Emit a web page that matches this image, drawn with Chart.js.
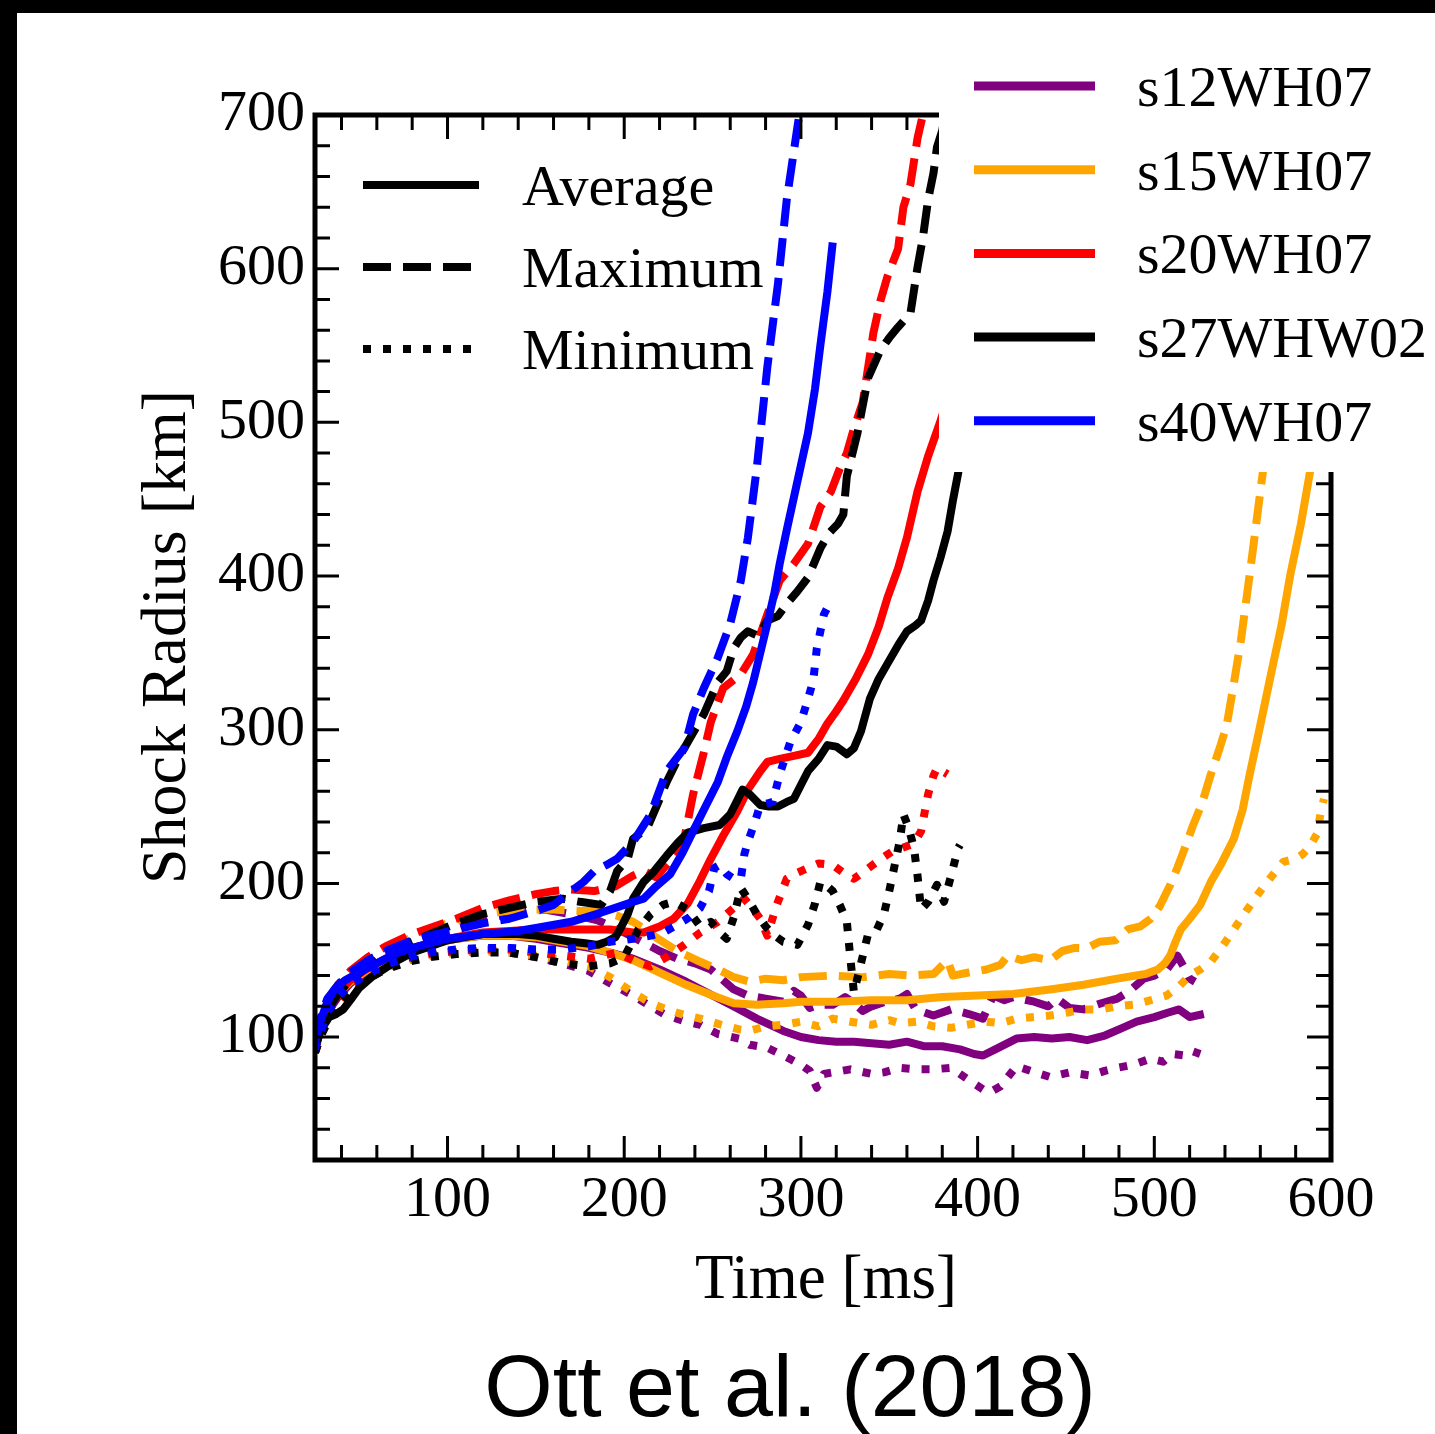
<!DOCTYPE html>
<html>
<head>
<meta charset="utf-8">
<script src="https://cdn.jsdelivr.net/npm/chart.js@4.4.1/dist/chart.umd.min.js"></script>
<style>
  html, body { margin: 0; padding: 0; background: #000; }
  #wrap { position: absolute; left: 17px; top: 13px; width: 1418px; height: 1421px; background: #fff; }
</style>
</head>
<body>
<div id="wrap"><canvas id="myChart" width="1418" height="1421"></canvas></div>
<script>
// shock radius vs time, Ott et al. (2018), drawn with chart.js

const xTickLabels = [100, 200, 300, 400, 500, 600];
const yTickLabels = [100, 200, 300, 400, 500, 600, 700];
const X_MIN = 25, X_MAX = 600, Y_MIN = 20, Y_MAX = 700, MINOR_STEP = 20;

const models = ['s12WH07', 's15WH07', 's20WH07', 's27WHW02', 's40WH07'];
const styles = ['Average', 'Maximum', 'Minimum'];

// s12WH07
const s12AvgT = [25,28,32,38,45,55,65,78,90,105, 120,135,150,165,180,192,205,220,235,250, 262,275,290,300,310,320,330,340,350,360, 370,380,390,398,403,410,422,432,442,452, 462,472,482,490,500,508,514,520,528];
const s12AvgR = [92,104,116,126,135,143,150,157,161,164, 166,166,164,161,158,155,151,144,136,127, 120,112,104,100,98,97,97,96,95,97, 94,94,92,89,88,92,99,100,99,100, 98,101,106,110,113,116,118,113,115];
const s12MaxT = [25,28,32,38,45,55,65,78,90,105, 120,140,155,170,185,200,210,220,230,240, 249,256,262,270,280,290,296,300,305,310, 318,325,330,335,340,348,356,360,365,375, 385,395,403,406,409,415,420,432,440,445, 452,460,470,479,486,494,500,507,513,517, 520,523];
const s12MaxR = [95,108,120,130,139,148,155,162,167,172, 177,181,183,180,176,168,162,156,151,148, 144,137,131,127,125,123,130,127,119,121, 121,126,122,117,120,123,125,128,118,114, 118,115,112,120,127,124,126,123,120,125, 119,118,122,125,130,138,140,144,153,145, 138,136];
const s12MinT = [25,28,32,38,45,55,65,78,90,105, 120,135,150,165,180,192,205,215,224,235, 243,253,265,271,281,290,300,305,309,313, 318,328,340,347,356,366,375,385,395,403, 407,413,422,430,441,452,464,472,479,488, 498,505,510,517,521,526];
const s12MinR = [90,100,112,122,131,139,145,150,153,155, 156,155,152,148,143,135,127,120,114,110, 108,102,99,95,93,88,82,78,67,76, 77,79,76,77,80,79,79,80,72,66, 64,68,81,78,74,77,75,78,80,82, 86,84,89,88,91,89];

// s15WH07
const s15AvgT = [25,28,32,38,45,55,65,78,90,105, 120,135,150,165,180,192,205,220,235,250, 262,275,290,300,320,340,360,380,400,420, 441,460,479,495,502,506,509,512,515,520, 526,532,538,545,550,554,560,566,572,577, 583,588,594,600];
const s15AvgR = [93,106,118,128,136,144,150,156,160,164, 166,166,165,162,159,155,150,142,134,127, 122,121,122,123,123,124,124,126,127,128, 131,134,138,141,144,148,153,162,170,177, 186,201,213,229,248,271,303,336,368,401, 434,467,505,545];
const s15MaxT = [25,28,32,38,45,55,65,78,90,105, 120,140,160,175,187,196,205,212,219,230, 243,253,262,271,280,290,300,318,335,350, 362,375,383,386,395,405,413,417,425,432, 441,448,455,462,469,478,485,492,498,503, 509,513,516,522,527,532,537,541,545,549, 554,557,560,564,570,580,590,595];
const s15MaxR = [96,110,122,132,141,150,157,164,170,176, 180,183,183,182,182,179,175,170,164,156, 149,144,139,136,138,137,139,140,139,141, 140,141,150,140,142,144,147,153,150,152, 150,156,158,158,162,163,170,172,177,185, 199,210,219,238,252,271,288,303,330,358, 401,428,455,490,540,610,680,715];
const s15MinT = [25,28,32,38,45,55,65,78,90,105, 120,135,150,165,180,192,205,215,224,235, 243,255,265,271,280,290,300,310,318,328, 340,350,356,366,375,385,394,405,413,422, 432,441,451,460,470,479,488,498,507,514, 520,526,532,538,545,552,560,566,573,580, 584,588,592,594,596];
const s15MinR = [90,100,113,123,131,139,145,150,153,155, 156,155,153,150,146,139,129,122,118,114, 112,108,105,104,107,108,110,107,112,110, 108,111,109,110,107,106,108,110,109,112, 113,114,116,118,118,120,121,124,127,133, 140,144,149,158,170,182,195,204,214,216, 219,224,232,245,255];

// s20WH07
const s20AvgT = [25,28,32,38,45,55,65,78,90,105, 120,135,150,165,180,192,205,211,220,228, 236,243,249,256,264,270,277,281,288,296, 304,310,315,320,324,331,338,344,349,355, 360,366,372,379,390];
const s20AvgR = [94,107,119,129,137,145,151,157,161,165, 168,169,170,170,170,170,168,168,172,177, 187,202,216,231,247,261,273,279,281,283, 285,294,304,312,319,333,349,367,386,405, 425,455,478,501,540];
const s20MaxT = [25,28,32,38,45,55,65,78,90,105, 120,135,150,160,170,183,195,205,211,218, 224,230,234,239,245,249,256,266,273,281, 288,296,304,311,317,322,326,330,335,341, 345,349,355,358,362,366,370];
const s20MaxR = [96,110,123,134,143,152,159,166,171,177, 184,189,193,195,196,195,198,205,208,204, 212,220,229,258,285,305,327,336,349,375, 397,408,421,445,455,470,480,496,513,558, 579,595,613,640,655,685,705];
const s20MinT = [25,28,32,38,45,55,65,78,90,105, 120,135,150,165,180,196,205,215,224,234, 243,253,262,268,273,277,281,286,292,298, 304,310,318,324,330,336,343,348,352,357, 362,365,368,372,375,377,380,383];
const s20MinR = [90,100,113,123,132,140,146,151,154,156, 157,157,155,153,151,155,150,146,152,160, 168,175,184,190,183,177,166,185,203,207, 210,213,212,207,203,208,214,218,221,223, 225,228,234,258,270,275,273,271];

// s27WHW02
const s27AvgT = [25,28,33,37,41,45,50,57,65,72, 80,90,100,110,120,130,140,150,160,170, 178,185,190,195,198,202,205,211,217,224, 230,236,245,254,260,264,267,271,277,282, 287,292,296,300,304,310,315,320,326,330, 334,339,344,349,355,360,365,368,372,375, 379,383,386,389,392];
const s27AvgR = [92,104,113,115,118,124,132,139,145,150, 155,159,163,165,167,167,167,166,164,162, 161,160,162,165,171,180,190,201,208,218, 226,233,236,238,245,254,261,258,251,250, 250,253,255,264,273,281,290,289,284,288, 299,320,333,343,355,364,368,371,384,397, 412,429,449,467,490];
const s27MaxT = [25,28,33,38,45,55,65,78,90,105, 120,135,150,165,175,187,192,196,202,205, 213,219,224,230,236,245,253,258,262,266, 270,276,281,287,292,298,304,311,316,321, 324,326,332,338,345,350,355,362,366,369, 372,375,377,380,383];
const s27MaxR = [95,108,119,128,137,146,154,161,167,174, 180,184,188,190,188,186,195,208,216,229, 236,252,266,280,292,310,331,338,353,360, 364,361,371,374,382,390,399,418,428,434, 440,465,493,529,547,555,562,571,601,620, 645,662,679,690,710];
const s27MinT = [25,28,33,38,45,55,65,78,90,105, 120,135,150,165,180,192,200,208,215,222, 228,236,243,249,254,258,262,266,270,275, 280,284,290,298,304,308,311,315,318,322, 326,328,330,334,338,343,347,350,352,356, 358,361,364,366,368,372,377,381,385,389, 390];
const s27MinR = [90,100,112,121,130,138,144,149,152,154, 155,155,152,148,146,148,152,170,180,186, 188,183,172,175,168,164,178,197,190,180, 172,167,162,160,173,187,201,198,195,186, 175,151,129,148,167,170,180,195,206,228, 245,236,223,205,183,188,199,188,205,223, 225];

// s40WH07
const s40AvgT = [25,28,32,36,42,50,60,70,80,90, 100,120,140,150,170,187,200,205,211,218, 226,233,239,246,253,258,264,269,273,277, 281,285,288,292,296,300,304,308,311,315, 318];
const s40AvgR = [96,110,123,131,137,142,148,154,158,161, 164,167,169,171,175,181,186,188,190,198, 206,220,234,250,266,282,299,315,331,350, 369,389,408,430,451,472,493,522,550,585, 617];
const s40MaxT = [25,28,32,38,45,55,65,78,90,105, 120,135,150,160,170,177,183,190,196,205, 215,224,234,239,245,253,260,266,270,275, 281,287,292,298,301];
const s40MaxR = [97,112,125,134,142,150,156,162,166,170, 174,177,182,186,195,201,208,212,216,227, 245,273,288,310,327,347,369,397,425,470, 536,590,645,692,715];
const s40MinT = [25,28,32,38,45,55,65,78,90,105, 120,135,150,165,180,192,205,215,222,230, 237,243,248,251,254,258,262,266,268,270, 274,277,281,284,288,294,300,304,307,309, 313,317];
const s40MinR = [92,103,116,126,134,141,147,152,155,157, 158,158,157,157,159,162,164,166,168,173, 178,184,195,210,212,206,203,203,219,227, 240,251,252,253,271,292,305,320,332,353, 375,384];

const colors = ['#800080', '#FFA500', '#FF0000', '#000000', '#0000FF'];
const dashes = [[], [28, 12], [8, 12]];

const runs = [
    [[s12AvgT, s12AvgR], [s12MaxT, s12MaxR], [s12MinT, s12MinR]],
    [[s15AvgT, s15AvgR], [s15MaxT, s15MaxR], [s15MinT, s15MinR]],
    [[s20AvgT, s20AvgR], [s20MaxT, s20MaxR], [s20MinT, s20MinR]],
    [[s27AvgT, s27AvgR], [s27MaxT, s27MaxR], [s27MinT, s27MinR]],
    [[s40AvgT, s40AvgR], [s40MaxT, s40MaxR], [s40MinT, s40MinR]]
];

const SERIF = "'Liberation Serif', 'Times New Roman', serif";
const SANS = "'Liberation Sans', Arial, sans-serif";

const datasets = [];
runs.forEach((run, m) => {
    run.forEach(([T, R], s) => {
        datasets.push({
            label: models[m] + ' ' + styles[s],
            data: T.map((t, i) => ({ x: t, y: R[i] })),
            borderColor: colors[m],
            borderWidth: 8,
            borderDash: dashes[s],
            borderCapStyle: 'butt',
            borderJoinStyle: 'round',
            pointRadius: 0,
            tension: 0,
            fill: false,
            clip: 0,
            order: 100 - m * 3 - s
        });
    });
});

// frame with inward ticks on all four sides
const framePlugin = {
    id: 'frame',
    afterDatasetsDraw(chart) {
        const { ctx, chartArea: a, scales: { x, y } } = chart;
        ctx.save();
        ctx.strokeStyle = '#000';
        ctx.lineWidth = 3;
        ctx.beginPath();
        for (let v = X_MIN - X_MIN % MINOR_STEP + MINOR_STEP; v <= X_MAX; v += MINOR_STEP) {
            const px = x.getPixelForValue(v);
            const len = v % 100 === 0 ? 24 : 15;
            ctx.moveTo(px, a.bottom); ctx.lineTo(px, a.bottom - len);
            ctx.moveTo(px, a.top); ctx.lineTo(px, a.top + len);
        }
        for (let v = Y_MIN - Y_MIN % MINOR_STEP + MINOR_STEP; v <= Y_MAX; v += MINOR_STEP) {
            const py = y.getPixelForValue(v);
            const len = v % 100 === 0 ? 24 : 15;
            ctx.moveTo(a.left, py); ctx.lineTo(a.left + len, py);
            ctx.moveTo(a.right, py); ctx.lineTo(a.right - len, py);
        }
        ctx.stroke();
        ctx.lineWidth = 5;
        ctx.strokeRect(a.left, a.top, a.right - a.left, a.bottom - a.top);
        ctx.restore();
    },
    afterDraw(chart) {
        const ctx = chart.ctx;
        ctx.save();

        // model legend on a white box over the top right corner
        ctx.fillStyle = '#fff';
        ctx.fillRect(922, 0, chart.width - 922, 459);
        ctx.font = '58px ' + SERIF;
        ctx.textAlign = 'left';
        ctx.textBaseline = 'alphabetic';
        models.forEach((name, i) => {
            const ly = 73 + i * 83.7;
            ctx.strokeStyle = colors[i];
            ctx.lineWidth = 9;
            ctx.setLineDash([]);
            ctx.beginPath();
            ctx.moveTo(957, ly); ctx.lineTo(1078, ly);
            ctx.stroke();
            ctx.fillStyle = '#000';
            ctx.fillText(name, 1120, ly + 20);
        });

        // line style legend
        styles.forEach((name, i) => {
            const ly = 172 + i * 82;
            ctx.strokeStyle = '#000';
            ctx.lineWidth = 8;
            ctx.lineCap = 'butt';
            ctx.setLineDash(dashes[i]);
            ctx.beginPath();
            ctx.moveTo(346, ly); ctx.lineTo(462, ly);
            ctx.stroke();
            ctx.fillStyle = '#000';
            ctx.fillText(name, 505, ly + 20);
        });
        ctx.setLineDash([]);

        // axis titles and caption
        ctx.fillStyle = '#000';
        ctx.font = '63px ' + SERIF;
        ctx.textAlign = 'center';
        ctx.fillText('Time [ms]', 809, 1285);
        ctx.save();
        ctx.translate(168, 624);
        ctx.rotate(-Math.PI / 2);
        ctx.font = '64px ' + SERIF;
        ctx.fillText('Shock Radius [km]', 0, 0);
        ctx.restore();
        ctx.font = '88px ' + SANS;
        ctx.fillText('Ott et al. (2018)', 773, 1403);
        ctx.restore();
    }
};

const config = {
    type: 'line',
    data: { datasets: datasets },
    options: {
        responsive: false,
        animation: false,
        events: [],
        layout: { padding: { left: 0, top: 102, right: 104, bottom: 0 } },
        plugins: {
            legend: { display: false },
            tooltip: { enabled: false }
        },
        scales: {
            x: {
                type: 'linear',
                min: X_MIN,
                max: X_MAX,
                afterBuildTicks: s => { s.ticks = xTickLabels.map(v => ({ value: v })); },
                afterFit: s => { s.height = 274; },
                grid: { display: false, drawTicks: false },
                border: { display: false },
                ticks: {
                    color: '#000',
                    font: { family: SERIF, size: 58 },
                    padding: 6,
                    maxRotation: 0,
                    autoSkip: false
                }
            },
            y: {
                type: 'linear',
                min: Y_MIN,
                max: Y_MAX,
                afterBuildTicks: s => { s.ticks = yTickLabels.map(v => ({ value: v })); },
                afterFit: s => { s.width = 298; },
                grid: { display: false, drawTicks: false },
                border: { display: false },
                ticks: {
                    color: '#000',
                    font: { family: SERIF, size: 58 },
                    padding: 10,
                    autoSkip: false
                }
            }
        }
    },
    plugins: [framePlugin]
};

const myChart = new Chart(document.getElementById('myChart'), config);
</script>
</body>
</html>
